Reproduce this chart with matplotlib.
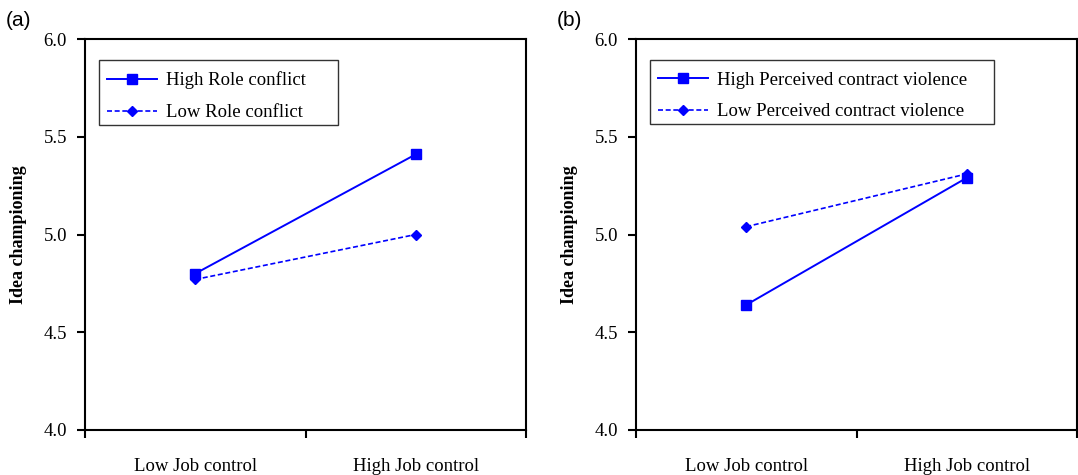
import matplotlib
matplotlib.use("Agg")
import matplotlib.pyplot as plt
from matplotlib.patches import Rectangle

# data
categories = ["Low Job control", "High Job control"]
a_high = [4.80, 5.41]
a_low = [4.77, 5.00]
b_high = [4.64, 5.29]
b_low = [5.04, 5.31]
a_labels = ["High Role conflict", "Low Role conflict"]
b_labels = ["High Perceived contract violence", "Low Perceived contract violence"]
y_ticks = [4.0, 4.5, 5.0, 5.5, 6.0]

plt.rcParams["font.family"] = ["Liberation Serif", "DejaVu Serif"]
blue = "#0000ff"

fig = plt.figure(figsize=(10.78, 4.75), dpi=100)
W, H = 1078, 475
ax_a = fig.add_axes([85 / W, 1 - 430 / H, 441 / W, 391 / H])
ax_b = fig.add_axes([636 / W, 1 - 430 / H, 441 / W, 391 / H])


def draw_panel(ax, high, low, labels, tag, tag_x):
    xs = [0.5, 1.5]
    ax.plot(xs, high, color=blue, lw=1.4, marker="s", ms=7.5, label=labels[0])
    ax.plot(xs, low, color=blue, lw=1.2, ls=(0, (3, 1.6)), marker="D", ms=5.2,
            label=labels[1])
    ax.set_xlim(0, 2)
    ax.set_ylim(4.0, 6.0)
    ax.set_yticks(y_ticks)
    ax.set_yticklabels([f"{t:.1f}" for t in y_ticks], fontsize=13.5)
    ax.set_xticks([0, 1, 2])
    ax.set_xticklabels([])
    ax.set_xticks(xs, minor=True)
    ax.set_xticklabels(categories, minor=True, fontsize=13.5)
    ax.tick_params(axis="x", which="minor", length=0, pad=20)
    ax.tick_params(axis="both", which="major", direction="out", length=6,
                   width=1.5, color="black")
    ax.tick_params(axis="y", pad=7)
    for sp in ax.spines.values():
        sp.set_linewidth(1.5)
    ax.set_ylabel("Idea championing", fontsize=13, fontweight="bold", labelpad=12)
    leg = ax.legend(loc="upper left", bbox_to_anchor=(0.032, 0.936),
                    borderaxespad=0, fontsize=13.5, frameon=False,
                    borderpad=0.4, handlelength=2.7, labelspacing=0.78,
                    handletextpad=0.45)
    fig.text(tag_x / W, 1 - 20 / H, tag, fontsize=15, family="Liberation Sans",
             ha="left", va="center")
    return leg


def add_frame(leg, extra_right):
    # box drawn by hand: the original has more room right of the text
    bb = leg.get_window_extent()
    x0, y0 = bb.x0, bb.y0 + 4
    w, h = bb.width + extra_right, bb.height
    inv = fig.transFigure.inverted()
    (fx0, fy0), (fx1, fy1) = inv.transform([(x0, y0), (x0 + w, y0 + h)])
    fig.add_artist(Rectangle((fx0, fy0), fx1 - fx0, fy1 - fy0,
                             transform=fig.transFigure, fill=False,
                             edgecolor="#333333", lw=1.0))


leg_a = draw_panel(ax_a, a_high, a_low, a_labels, "(a)", 6)
leg_b = draw_panel(ax_b, b_high, b_low, b_labels, "(b)", 557)
fig.canvas.draw()
add_frame(leg_a, 25)
add_frame(leg_b, 20)

fig.savefig("out.png", dpi=100)
